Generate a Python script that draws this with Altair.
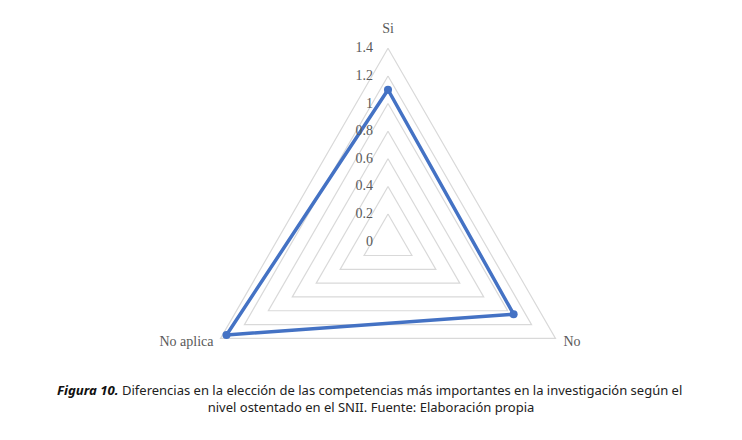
import altair as alt
import numpy as np
import pandas as pd

# ---- data ----
categories = ["Si", "No", "No aplica"]
values = [1.1, 1.05, 1.35]
ring_values = [0.2, 0.4, 0.6, 0.8, 1.0, 1.2, 1.4]
tick_values = [0, 0.2, 0.4, 0.6, 0.8, 1.0, 1.2, 1.4]
tick_labels = ["0", "0.2", "0.4", "0.6", "0.8", "1", "1.2", "1.4"]
caption_bold = "Figura 10."
caption_line1 = "Diferencias en la elección de las competencias más importantes en la investigación según el"
caption_line2 = "nivel ostentado en el SNII. Fuente: Elaboración propia"

# ---- geometry (radar angles) ----
angles = [90, -30, 210]  # degrees for Si, No, No aplica

def polar(r, a):
    return r * np.cos(np.radians(a)), r * np.sin(np.radians(a))

# rings
ring_rows = []
for rv in ring_values:
    for i, a in enumerate(angles + [angles[0]]):
        x, y = polar(rv, a)
        ring_rows.append({"ring": rv, "ord": i, "x": x, "y": y})
rings = pd.DataFrame(ring_rows)

# series
ser_rows = []
for i, (c, v, a) in enumerate(list(zip(categories, values, angles)) + [(categories[0], values[0], angles[0])]):
    x, y = polar(v, a)
    ser_rows.append({"cat": c, "ord": i, "x": x, "y": y, "value": v})
series = pd.DataFrame(ser_rows)

ticks = pd.DataFrame({"x": [0.0] * len(tick_values), "y": tick_values, "label": tick_labels})

lab_rows = []
for c, a in zip(categories, angles):
    x, y = polar(1.4, a)
    lab_rows.append({"cat": c, "x": x, "y": y})
labels = pd.DataFrame(lab_rows)

# ---- scales ----
W, H = 726, 424
cx, cy = 380.0, 233.7
k = 1.4 / 193.4
xs = alt.Scale(domain=[-cx * k, (W - cx) * k], nice=False, zero=False)
ys = alt.Scale(domain=[-(H - cy) * k, cy * k], nice=False, zero=False)
X = lambda: alt.X("x:Q", scale=xs, axis=None)
Y = lambda: alt.Y("y:Q", scale=ys, axis=None)

grid = alt.Chart(rings).mark_line(color="#d9d9d9", strokeWidth=1.2).encode(
    x=X(), y=Y(), detail="ring:N", order="ord:Q"
)

line = alt.Chart(series).mark_line(color="#4472C4", strokeWidth=3.5).encode(
    x=X(), y=Y(), order="ord:Q"
)
pts = alt.Chart(series.iloc[:3]).mark_circle(color="#4472C4", size=65, opacity=1).encode(
    x=X(), y=Y()
)

tick_txt = alt.Chart(ticks).mark_text(
    align="right", baseline="middle", dx=-15, font="Liberation Serif", fontSize=14, color="#595959"
).encode(x=X(), y=Y(), text="label:N")

serif = dict(font="Liberation Serif", fontSize=14, color="#595959")
lab_si = alt.Chart(labels[labels.cat == "Si"]).mark_text(
    align="center", baseline="middle", dy=-19, **serif
).encode(x=X(), y=Y(), text="cat:N")
lab_no = alt.Chart(labels[labels.cat == "No"]).mark_text(
    align="left", baseline="middle", dx=8, dy=4, **serif
).encode(x=X(), y=Y(), text="cat:N")
lab_na = alt.Chart(labels[labels.cat == "No aplica"]).mark_text(
    align="right", baseline="middle", dx=-7, dy=4, **serif
).encode(x=X(), y=Y(), text="cat:N")

cap_df = pd.DataFrame({"a": [caption_bold], "b": [caption_line1], "c": [caption_line2]})
cap_font = "Noto Sans"
cap_bold = alt.Chart(cap_df).mark_text(
    align="left", baseline="middle", font=cap_font, fontSize=13.2, fontWeight="bold",
    fontStyle="italic", color="#111111"
).encode(x=alt.value(49), y=alt.value(383), text="a:N")
cap_1 = alt.Chart(cap_df).mark_text(
    align="left", baseline="middle", font=cap_font, fontSize=13, color="#222222"
).encode(x=alt.value(114), y=alt.value(383), text="b:N")
cap_2 = alt.Chart(cap_df).mark_text(
    align="center", baseline="middle", font=cap_font, fontSize=13, color="#222222"
).encode(x=alt.value(363), y=alt.value(400), text="c:N")

chart = alt.layer(
    grid, line, pts, tick_txt, lab_si, lab_no, lab_na, cap_bold, cap_1, cap_2
).properties(
    width=W, height=H, padding=0, background="white",
    autosize=alt.AutoSizeParams(type="none")
).configure_view(stroke=None)

chart.save("out.html", embed_options={"renderer": "svg", "actions": False})
